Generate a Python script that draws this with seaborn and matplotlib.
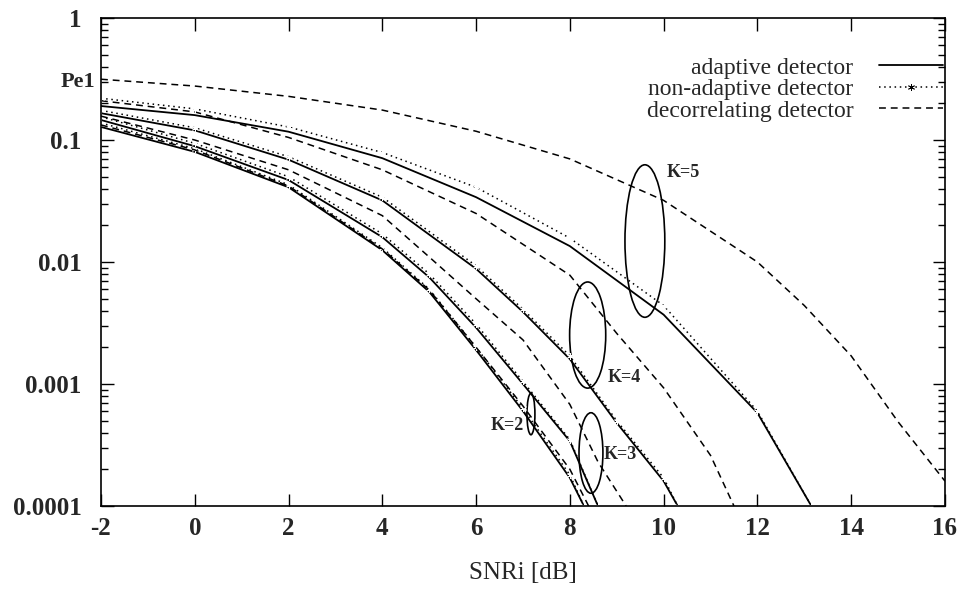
import matplotlib
matplotlib.use("Agg")
import numpy as np
import pandas as pd
import matplotlib.pyplot as plt
from matplotlib.patches import Ellipse
from matplotlib.lines import Line2D
import seaborn as sns

# ---- bit error probability of user 1 versus input SNR, K = 2..5 users ----
snr_k2 = [-2, 0, 2, 4, 5, 6, 7, 8, 8.3]
pe_k2_adaptive = [0.128, 0.080, 0.041, 0.0125, 0.0057, 0.0019, 0.00060, 0.00017, 0.0001]
pe_k2_nonadaptive = [0.138, 0.085, 0.043, 0.0131, 0.0060, 0.0020, 0.00063, 0.00018, 0.0001]
snr_k2_dec = [-2, 0, 2, 4, 5, 6, 7, 8, 8.4]
pe_k2_decorrelating = [0.133, 0.083, 0.042, 0.0128, 0.0059, 0.0020, 0.00066, 0.00020, 0.0001]

snr_k3 = [-2, 0, 2, 4, 5, 6, 7, 8, 8.6]
pe_k3_adaptive = [0.146, 0.089, 0.047, 0.016, 0.0075, 0.0029, 0.0010, 0.00034, 0.0001]
pe_k3_nonadaptive = [0.155, 0.094, 0.050, 0.017, 0.0080, 0.0031, 0.00105, 0.00035, 0.0001]
snr_k3_dec = [-2, 0, 2, 4, 5, 6, 7, 8, 8.6, 9.2]
pe_k3_decorrelating = [0.157, 0.100, 0.057, 0.024, 0.011, 0.0050, 0.0023, 0.00068, 0.00023, 0.0001]

snr_k4 = [-2, 0, 2, 4, 6, 7, 8, 9, 10, 10.3]
pe_k4_adaptive = [0.166, 0.120, 0.069, 0.032, 0.0088, 0.0039, 0.0016, 0.00048, 0.00016, 0.0001]
pe_k4_nonadaptive = [0.175, 0.126, 0.073, 0.034, 0.0093, 0.0041, 0.0017, 0.00050, 0.00017, 0.0001]
snr_k4_dec = [-2, 0, 2, 4, 6, 8, 9, 10, 11, 11.5]
pe_k4_decorrelating = [0.21, 0.17, 0.105, 0.057, 0.025, 0.0078, 0.0026, 0.00093, 0.00026, 0.0001]

snr_k5 = [-2, 0, 2, 4, 6, 8, 10, 12, 13.15]
pe_k5_adaptive = [0.19, 0.16, 0.117, 0.071, 0.034, 0.0135, 0.0037, 0.00058, 0.0001]
pe_k5_nonadaptive = [0.22, 0.18, 0.128, 0.079, 0.041, 0.0157, 0.0044, 0.00060, 0.0001]
snr_k5_dec = [-2, 0, 2, 4, 6, 8, 10, 12, 13, 14, 15, 16]
pe_k5_decorrelating = [0.315, 0.277, 0.228, 0.176, 0.118, 0.070, 0.032, 0.0100, 0.0044, 0.0017, 0.00049, 0.00016]

x_ticks = [-2, 0, 2, 4, 6, 8, 10, 12, 14, 16]
y_ticks = [0.0001, 0.001, 0.01, 0.1, 1]
y_tick_labels = ["0.0001", "0.001", "0.01", "0.1", "1"]
detectors = ["adaptive detector", "non-adaptive detector", "decorrelating detector"]

curves = [
    (2, detectors[0], snr_k2, pe_k2_adaptive),
    (2, detectors[1], snr_k2, pe_k2_nonadaptive),
    (2, detectors[2], snr_k2_dec, pe_k2_decorrelating),
    (3, detectors[0], snr_k3, pe_k3_adaptive),
    (3, detectors[1], snr_k3, pe_k3_nonadaptive),
    (3, detectors[2], snr_k3_dec, pe_k3_decorrelating),
    (4, detectors[0], snr_k4, pe_k4_adaptive),
    (4, detectors[1], snr_k4, pe_k4_nonadaptive),
    (4, detectors[2], snr_k4_dec, pe_k4_decorrelating),
    (5, detectors[0], snr_k5, pe_k5_adaptive),
    (5, detectors[1], snr_k5, pe_k5_nonadaptive),
    (5, detectors[2], snr_k5_dec, pe_k5_decorrelating),
]
df = pd.concat(
    [pd.DataFrame({"K": k, "detector": det, "snr": x, "pe": y}) for k, det, x, y in curves],
    ignore_index=True,
)

styles = {
    detectors[0]: dict(linestyle="-", linewidth=1.3),
    detectors[1]: dict(linestyle=(0, (1, 2.4)), linewidth=1.1,
                       marker=(6, 2, 0), markersize=5, markeredgewidth=0.6),
    detectors[2]: dict(linestyle=(0, (4.5, 3.2)), linewidth=1.1),
}

sns.set_style("ticks", {"xtick.direction": "in", "ytick.direction": "in"})
plt.rcParams["font.family"] = ["Liberation Serif", "DejaVu Serif"]

fig = plt.figure(figsize=(9.58, 5.91), dpi=100)
ax = fig.add_axes([0.1054, 0.1438, 0.881, 0.8257])
ax.set_yscale("log")

for (k, det), part in df.groupby(["K", "detector"], sort=False):
    sns.lineplot(data=part, x="snr", y="pe", ax=ax, color="black",
                 estimator=None, sort=False, legend=False, **styles[det])

ax.set_xlim(-2, 16)
ax.set_ylim(1e-4, 1)
ax.set_xticks(x_ticks)
ax.set_xticklabels([str(t) for t in x_ticks], fontsize=18, fontweight="bold")
ax.set_yticks(y_ticks)
ax.set_yticklabels(y_tick_labels, fontsize=18, fontweight="bold")
ax.yaxis.set_minor_formatter(matplotlib.ticker.NullFormatter())
ax.tick_params(which="both", direction="in", top=True, right=True, color="black", width=1.0)
ax.tick_params(which="major", length=9, pad=8)
ax.tick_params(which="minor", length=5)
ax.tick_params(axis="y", which="major", pad=14)
for s in ax.spines.values():
    s.set_linewidth(1.2)
    s.set_color("black")

ax.set_xlabel("SNRi [dB]", fontsize=18, labelpad=16)
ax.set_ylabel("")
ax.text(-0.007, 0.869, "Pe1", transform=ax.transAxes, ha="right", va="center",
        fontsize=16, fontweight="bold")

# group outlines: (centre SNR, centre Pe, width in dB, height in decades)
groups = [
    ("K=5", 9.60, 0.01486, 0.85, 1.25, (10.07, 0.0537), "left"),
    ("K=4", 8.38, 0.00252, 0.77, 0.87, (8.81, 0.00114), "left"),
    ("K=3", 8.45, 0.000272, 0.51, 0.66, (8.72, 0.000263), "left"),
    ("K=2", 7.17, 0.000568, 0.17, 0.34, (7.02, 0.000461), "right"),
]
inv = ax.transAxes.inverted()
for name, cx, cy, w_db, h_dec, (tx, ty), ha in groups:
    c = inv.transform(ax.transData.transform((cx, cy)))
    left = inv.transform(ax.transData.transform((cx - w_db / 2, cy)))
    top = inv.transform(ax.transData.transform((cx, cy * 10 ** (h_dec / 2))))
    ax.add_patch(Ellipse(c, width=2 * (c[0] - left[0]), height=2 * (top[1] - c[1]),
                         transform=ax.transAxes, fill=False, edgecolor="black", linewidth=1.2))
    ax.text(tx, ty, name, ha=ha, va="center", fontsize=13, fontweight="bold")

handles = [Line2D([], [], color="black", **styles[d]) for d in detectors]
ax.legend(handles, detectors, loc="upper right", bbox_to_anchor=(0.9976, 0.92),
          frameon=False, markerfirst=False, fontsize=17, handlelength=2.7,
          handletextpad=1.1, labelspacing=0.0, borderaxespad=0, borderpad=0)

fig.savefig("out.png", dpi=100)
